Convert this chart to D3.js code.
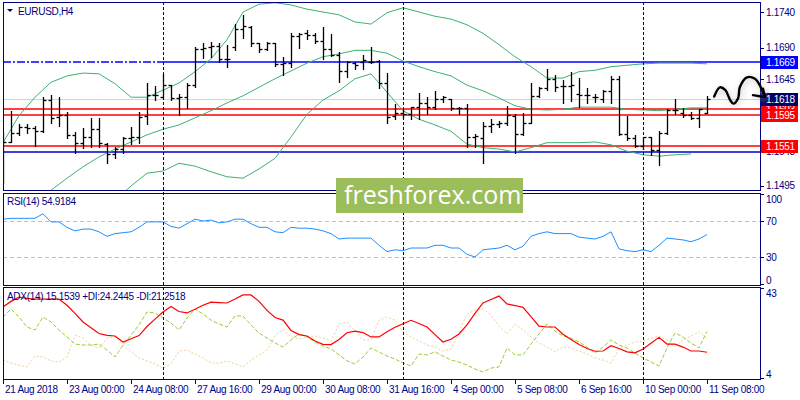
<!DOCTYPE html>
<html>
<head>
<meta charset="utf-8">
<script src="https://cdn.jsdelivr.net/npm/d3@7"></script>
<style>
  body { margin: 0; background: #fff; }
  svg text { font-family: "Liberation Sans", Arial, sans-serif; font-size: 10px; letter-spacing: -0.3px; }
</style>
</head>
<body>
<svg id="chart" width="800" height="400"></svg>
<script>
// EURUSD H4 bars
const opens = [1.1532,1.1557,1.1570,1.1578,1.1577,1.1572,1.1616,1.1592,1.1595,1.1567,1.1556,1.1564,1.1575,1.1554,1.1540,1.1547,1.1563,1.1564,1.1594,1.1623,1.1620,1.1637,1.1619,1.1620,1.1637,1.1688,1.1691,1.1692,1.1674,1.1691,1.1716,1.1719,1.1696,1.1688,1.1696,1.1667,1.1668,1.1706,1.1710,1.1708,1.1699,1.1688,1.1679,1.1657,1.1668,1.1670,1.1670,1.1671,1.1640,1.1594,1.1598,1.1596,1.1606,1.1612,1.1606,1.1618,1.1618,1.1605,1.1605,1.1564,1.1563,1.1579,1.1582,1.1584,1.1594,1.1568,1.1584,1.1622,1.1633,1.1646,1.1636,1.1636,1.1625,1.1623,1.1620,1.1618,1.1629,1.1646,1.1568,1.1563,1.1551,1.1564,1.1546,1.1570,1.1602,1.1598,1.1595,1.1591,1.1598];
const highs = [1.1571,1.1601,1.1582,1.1582,1.1579,1.1620,1.1623,1.1620,1.1599,1.1571,1.1577,1.1591,1.1591,1.1556,1.1550,1.1564,1.1578,1.1599,1.1640,1.1636,1.1653,1.1637,1.1625,1.1640,1.1691,1.1696,1.1698,1.1696,1.1694,1.1723,1.1736,1.1720,1.1696,1.1698,1.1696,1.1677,1.1710,1.1710,1.1715,1.1710,1.1719,1.1709,1.1684,1.1671,1.1670,1.1679,1.1691,1.1672,1.1654,1.1610,1.1602,1.1606,1.1626,1.1620,1.1629,1.1622,1.1618,1.1606,1.1610,1.1568,1.1585,1.1589,1.1587,1.1608,1.1596,1.1598,1.1640,1.1634,1.1660,1.1651,1.1644,1.1656,1.1647,1.1633,1.1625,1.1630,1.1650,1.1650,1.1594,1.1567,1.1564,1.1564,1.1572,1.1603,1.1618,1.1605,1.1599,1.1603,1.1622];
const lows = [1.1499,1.1557,1.1567,1.1570,1.1551,1.1571,1.1584,1.1579,1.1563,1.1541,1.1549,1.1550,1.1550,1.1527,1.1534,1.1541,1.1554,1.1556,1.1582,1.1616,1.1619,1.1616,1.1595,1.1605,1.1634,1.1675,1.1677,1.1670,1.1663,1.1686,1.1703,1.1692,1.1684,1.1686,1.1664,1.1651,1.1663,1.1689,1.1702,1.1696,1.1674,1.1678,1.1641,1.1648,1.1660,1.1660,1.1668,1.1633,1.1584,1.1589,1.1591,1.1589,1.1589,1.1596,1.1603,1.1613,1.1602,1.1596,1.1550,1.1550,1.1527,1.1571,1.1578,1.1581,1.1541,1.1567,1.1584,1.1620,1.1630,1.1629,1.1612,1.1615,1.1606,1.1612,1.1613,1.1613,1.1612,1.1567,1.1560,1.1550,1.1547,1.1539,1.1525,1.1568,1.1596,1.1592,1.1589,1.1578,1.1598];
const closes = [1.1557,1.1570,1.1578,1.1577,1.1572,1.1616,1.1591,1.1595,1.1567,1.1556,1.1564,1.1575,1.1556,1.1540,1.1547,1.1563,1.1564,1.1592,1.1623,1.1623,1.1637,1.1619,1.1620,1.1637,1.1688,1.1689,1.1692,1.1674,1.1674,1.1716,1.1720,1.1696,1.1688,1.1696,1.1667,1.1668,1.1706,1.1709,1.1708,1.1699,1.1688,1.1679,1.1657,1.1670,1.1665,1.1672,1.1670,1.1640,1.1592,1.1598,1.1596,1.1606,1.1612,1.1606,1.1618,1.1620,1.1605,1.1605,1.1564,1.1565,1.1579,1.1582,1.1584,1.1595,1.1568,1.1584,1.1622,1.1633,1.1646,1.1634,1.1636,1.1637,1.1623,1.1623,1.1620,1.1629,1.1646,1.1568,1.1563,1.1551,1.1564,1.1546,1.1570,1.1602,1.1602,1.1595,1.1591,1.1603,1.1618];

// bollinger bands, sampled every 2nd bar
const bandIdx = d3.range(0, 89, 2);
const upperBand = [1.1556,1.1594,1.1620,1.1641,1.1650,1.1654,1.1653,1.1639,1.1620,1.1620,1.1630,1.1640,1.1656,1.1674,1.1701,1.1740,1.1751,1.1753,1.1750,1.1744,1.1740,1.1736,1.1726,1.1723,1.1739,1.1746,1.1740,1.1734,1.1730,1.1722,1.1710,1.1694,1.1677,1.1663,1.1647,1.1647,1.1656,1.1658,1.1663,1.1665,1.1667,1.1668,1.1668,1.1668,1.1667];
const middleBand = [1.1450,1.1464,1.1477,1.1489,1.1506,1.1522,1.1536,1.1547,1.1557,1.1567,1.1575,1.1581,1.1591,1.1601,1.1612,1.1622,1.1634,1.1646,1.1657,1.1668,1.1677,1.1681,1.1686,1.1686,1.1682,1.1671,1.1663,1.1656,1.1650,1.1637,1.1629,1.1619,1.1608,1.1603,1.1602,1.1603,1.1606,1.1606,1.1606,1.1603,1.1602,1.1601,1.1603,1.1605,1.1605];
const lowerBand = [null,null,null,null,null,null,1.1454,1.1475,1.1495,1.1513,1.1516,1.1527,1.1523,1.1515,1.1508,1.1506,1.1519,1.1534,1.1564,1.1596,1.1616,1.1629,1.1646,1.1653,1.1627,1.1601,1.1589,1.1581,1.1572,1.1554,1.1549,1.1547,1.1543,1.1549,1.1556,1.1556,1.1556,1.1557,1.1553,1.1544,1.1539,1.1537,1.1539,1.1540,null];

// indicators
const rsi = [72,73,73,73,73,78,69,69,63,59,61,61,58,53,56,57,58,63,69,69,69,64,62,67,72,70,71,68,69,72,72,67,63,63,58,57,63,62,62,61,59,56,50,51,51,51,51,43,36,38,37,40,40,40,43,43,40,40,33,30,38,39,40,43,38,42,53,56,58,56,56,56,52,51,50,53,58,39,37,36,38,36,43,51,50,49,47,50,54.9184];
const adx = [34.8,37.2,39.0,38.5,38.2,38.2,38.2,38.2,35.5,32.0,28.3,25.8,23.3,22.5,22.2,19.6,21.0,22.4,26.3,29.5,32.6,35.0,32.8,32.2,33.8,35.5,36.9,36.7,36.5,38.2,40.0,40.0,37.2,33.3,30.2,29.1,24.6,22.8,22.2,20.0,18.6,18.5,20.7,23.6,24.3,23.7,21.8,21.8,24.0,26.0,27.5,29.0,27.6,26.1,22.8,19.6,20.8,23.1,27.0,32.0,36.5,38.0,39.5,36.1,35.4,34.6,30.6,26.5,26.1,26.1,23.0,20.7,18.5,16.8,15.6,15.7,18.0,16.8,15.3,14.9,16.6,19.1,21.6,18.7,18.7,17.4,15.7,15.7,15.1539];
const plusDI = [30.4,33.9,30.4,26.1,24.8,30.4,28.3,24.8,21.8,18.7,18.3,18.3,18.7,16.1,13.1,18.3,22.6,27.0,32.6,32.2,30.0,27.8,24.8,30.0,33.9,31.7,29.1,27.4,26.1,30.9,30.9,27.0,23.5,21.3,19.2,17.4,20.5,23.1,21.8,19.6,17.9,16.6,14.0,11.4,10.1,13.1,17.0,15.3,13.5,12.2,10.5,9.2,14.4,14.0,15.3,13.5,11.8,10.9,9.6,7.9,6.6,8.3,8.8,17.0,14.0,14.0,18.7,23.1,27.4,24.4,22.2,21.3,19.6,17.4,14.8,17.4,20.5,18.3,17.0,14.8,12.7,10.9,9.2,17.0,23.5,21.8,19.2,17.0,24.2445];
const minusDI = [11.8,10.5,9.6,8.8,13.5,13.1,11.4,10.9,13.1,22.6,21.3,18.3,17.0,21.3,21.8,18.3,15.3,12.7,11.4,10.1,8.3,10.1,15.7,16.1,14.4,12.7,10.5,10.5,11.4,10.1,8.8,11.8,14.0,16.1,22.2,25.2,21.8,20.9,21.8,22.2,21.3,20.0,27.4,28.3,24.4,20.5,20.5,29.1,30.4,29.1,23.9,21.8,20.0,18.3,17.4,15.7,16.6,23.9,31.7,33.5,33.9,31.3,26.5,23.1,27.4,24.8,21.8,19.2,17.4,15.3,17.4,17.0,15.7,14.4,12.7,11.8,10.5,16.6,18.3,19.6,20.0,21.3,22.2,20.5,17.4,20.5,22.2,23.9,21.2518];

// axes
const timeLabels = ["21 Aug 2018","23 Aug 00:00","24 Aug 08:00","27 Aug 16:00","29 Aug 00:00","30 Aug 08:00","31 Aug 16:00","4 Sep 00:00","5 Sep 08:00","6 Sep 16:00","10 Sep 00:00","11 Sep 08:00"];
const timeIdx = [0,8,16,24,32,40,48,56,64,72,80,88];
const separatorIdx = [20, 50, 80];
const priceTicks = [1.1740, 1.1690, 1.1645, 1.1495];
const rsiTicks = [100, 70, 30, 0];
const rsiLevels = [70, 30];
const adxTicks = [43, 4];

// drawn levels
const redLevels = [1.1603, 1.1595, 1.1551];
const blueLevels = [1.1669, 1.1543];
const grayLevel = 1.1618;

// hand-drawn forecast arrow, [bar, price]
const arrowPts = [[88.9,1.1621],[89.6,1.1634],[90.3,1.1630],[90.9,1.1616],[91.3,1.1611],[91.9,1.1619],[92.1,1.1634],[93.0,1.1648],[94.0,1.1646],[94.6,1.1637],[95.0,1.1626],[95.25,1.1621]];
const arrowHead = [[93.75,1.1623],[95.25,1.1620],[95.0,1.1632]];

const svg = d3.select("#chart");
const navy = "#000080";
const L = 3, R = 760;
const main = {top: 2, bottom: 190}, rsiP = {top: 193, bottom: 285}, adxP = {top: 287, bottom: 379};

const x = d3.scaleLinear().domain([0, 88]).range([3, 707]);
const y = d3.scaleLinear().domain([1.1495, 1.1740]).range([186, 12]);
const yR = d3.scaleLinear().domain([0, 100]).range([284, 194]);
const yA = d3.scaleLinear().domain([4, 43]).range([378, 288]);
const px = v => Math.round(v) + 0.5;
const last = a => a[a.length - 1];

svg.append("rect").attr("width", 800).attr("height", 400).attr("fill", "#fff");

const defs = svg.append("defs");
[["clipMain", main], ["clipRsi", rsiP], ["clipAdx", adxP]].forEach(([id, p]) => {
    defs.append("clipPath").attr("id", id).append("rect")
        .attr("x", L + 1).attr("y", p.top + 1).attr("width", R - L - 1).attr("height", p.bottom - p.top - 1);
});
defs.append("filter").attr("id", "blur").attr("x", "-10%").attr("y", "-300%").attr("width", "120%").attr("height", "700%")
    .append("feGaussianBlur").attr("stdDeviation", 3);

// ---------- main panel ----------
const gm = svg.append("g").attr("clip-path", "url(#clipMain)");

gm.append("line").attr("x1", L).attr("x2", R).attr("y1", px(y(grayLevel))).attr("y2", px(y(grayLevel)))
    .attr("stroke", "#d3d3d3").attr("stroke-width", 1);

// shadows under the blue lines
gm.append("line").attr("x1", x(separatorIdx[0])).attr("x2", R)
    .attr("y1", y(blueLevels[0]) + 6).attr("y2", y(blueLevels[0]) + 6)
    .attr("stroke", "#666").attr("stroke-width", 5).attr("opacity", 0.5).attr("filter", "url(#blur)");
gm.append("line").attr("x1", L).attr("x2", R)
    .attr("y1", y(blueLevels[1]) + 6).attr("y2", y(blueLevels[1]) + 6)
    .attr("stroke", "#666").attr("stroke-width", 5).attr("opacity", 0.5).attr("filter", "url(#blur)");

gm.selectAll(".red").data(redLevels).enter().append("line")
    .attr("x1", L).attr("x2", R).attr("y1", d => Math.round(y(d))).attr("y2", d => Math.round(y(d)))
    .attr("stroke", "#ff0000").attr("stroke-width", 1.5);

// top blue: dash-dot to first separator, solid after
gm.append("line").attr("x1", L).attr("x2", x(separatorIdx[0]))
    .attr("y1", Math.round(y(blueLevels[0]))).attr("y2", Math.round(y(blueLevels[0])))
    .attr("stroke", "#0000ff").attr("stroke-width", 1.5).attr("stroke-dasharray", "8,2,2,2");
gm.append("line").attr("x1", x(separatorIdx[0])).attr("x2", R)
    .attr("y1", Math.round(y(blueLevels[0]))).attr("y2", Math.round(y(blueLevels[0])))
    .attr("stroke", "#0000ff").attr("stroke-width", 1.5);
gm.append("line").attr("x1", L).attr("x2", R)
    .attr("y1", Math.round(y(blueLevels[1]))).attr("y2", Math.round(y(blueLevels[1])))
    .attr("stroke", "#0000cc").attr("stroke-width", 1.5);

// bollinger
const bandLine = d3.line()
    .defined(d => d[1] !== null)
    .x(d => x(d[0])).y(d => y(d[1]));
[upperBand, middleBand, lowerBand].forEach(band => {
    gm.append("path")
        .attr("d", bandLine(bandIdx.map((b, i) => [b, band[i]])))
        .attr("fill", "none").attr("stroke", "#3cb371").attr("stroke-width", 1);
});

// OHLC bars
const bars = gm.append("g").attr("stroke", "#000").attr("stroke-width", 1.3);
opens.forEach((o, i) => {
    const cx = px(x(i));
    bars.append("line").attr("x1", cx).attr("x2", cx).attr("y1", Math.round(y(highs[i]))).attr("y2", Math.round(y(lows[i])) + 1);
    bars.append("line").attr("x1", cx - 3).attr("x2", cx).attr("y1", px(y(o))).attr("y2", px(y(o)));
    bars.append("line").attr("x1", cx).attr("x2", cx + 3).attr("y1", px(y(closes[i]))).attr("y2", px(y(closes[i])));
});

// ---------- RSI panel ----------
const gr = svg.append("g").attr("clip-path", "url(#clipRsi)");
gr.selectAll(".lvl").data(rsiLevels).enter().append("line")
    .attr("x1", L).attr("x2", R).attr("y1", d => px(yR(d))).attr("y2", d => px(yR(d)))
    .attr("stroke", "#c0c0c0").attr("stroke-dasharray", "4,3");
gr.append("path")
    .attr("d", d3.line().x((d, i) => x(i)).y(d => yR(d))(rsi))
    .attr("fill", "none").attr("stroke", "#1e90ff").attr("stroke-width", 1);

// ---------- ADX panel ----------
const ga = svg.append("g").attr("clip-path", "url(#clipAdx)");
const adxLine = d3.line().x((d, i) => x(i)).y(d => yA(d));
ga.append("path").attr("d", adxLine(minusDI)).attr("fill", "none")
    .attr("stroke", "#f2cf94").attr("stroke-width", 1).attr("stroke-dasharray", "2,2");
ga.append("path").attr("d", adxLine(plusDI)).attr("fill", "none")
    .attr("stroke", "#9acd32").attr("stroke-width", 1).attr("stroke-dasharray", "4,2");
ga.append("path").attr("d", adxLine(adx)).attr("fill", "none")
    .attr("stroke", "#ff0000").attr("stroke-width", 1.2);

// period separators
separatorIdx.forEach(s => {
    svg.append("line").attr("x1", px(x(s))).attr("x2", px(x(s)))
        .attr("y1", main.top).attr("y2", adxP.bottom)
        .attr("stroke", navy).attr("stroke-width", 1).attr("stroke-dasharray", "3,2");
});

// frames
[main, rsiP, adxP].forEach(p => {
    svg.append("rect").attr("x", L + 0.5).attr("y", p.top + 0.5)
        .attr("width", R - L).attr("height", p.bottom - p.top)
        .attr("fill", "none").attr("stroke", navy).attr("stroke-width", 1);
});

// ---------- right scales ----------
function rightLabel(v, cy, p, txt) {
    const c = Math.max(p.top + 6, Math.min(p.bottom - 5, cy));
    svg.append("line").attr("x1", R).attr("x2", R + 4).attr("y1", px(cy)).attr("y2", px(cy)).attr("stroke", navy);
    svg.append("text").attr("x", R + 6).attr("y", c + 3.5).attr("fill", navy).text(txt);
}
priceTicks.forEach(v => rightLabel(v, y(v), main, v.toFixed(4)));
rsiTicks.forEach(v => rightLabel(v, yR(v), rsiP, v));
adxTicks.forEach(v => rightLabel(v, yA(v), adxP, v));

// level label that sits under the red box, as in MT4
svg.append("text").attr("x", R + 6).attr("y", y(blueLevels[1]) + 3.5).attr("fill", navy).text(blueLevels[1].toFixed(4));

function boxLabel(v, bg) {
    const cy = Math.round(y(v));
    svg.append("rect").attr("x", R + 1).attr("y", cy - 6).attr("width", 37).attr("height", 13).attr("fill", bg);
    svg.append("text").attr("x", R + 6).attr("y", cy + 4).attr("fill", "#fff").text(v.toFixed(4));
}
boxLabel(blueLevels[0], "#0000ff");
boxLabel(redLevels[0], "#ff0000");
boxLabel(redLevels[1], "#ff0000");
boxLabel(redLevels[2], "#ff0000");
boxLabel(grayLevel, "#000066");

// ---------- time axis ----------
timeIdx.forEach((t, i) => {
    svg.append("line").attr("x1", px(x(t))).attr("x2", px(x(t))).attr("y1", adxP.bottom).attr("y2", adxP.bottom + 5).attr("stroke", navy);
    svg.append("text").attr("x", x(t) + 2).attr("y", 393).attr("fill", navy).text(timeLabels[i]);
});

// ---------- titles ----------
svg.append("path").attr("d", "M7,9L13,9L10,12Z").attr("fill", navy);
svg.append("text").attr("x", 18).attr("y", 15).attr("fill", navy).text("EURUSD,H4");
svg.append("text").attr("x", 7).attr("y", 205).attr("fill", navy).text("RSI(14) " + last(rsi).toFixed(4));
svg.append("text").attr("x", 7).attr("y", 300).attr("fill", navy)
    .text("ADX(14) " + last(adx).toFixed(4) + " +DI:" + last(plusDI).toFixed(4) + " -DI:" + last(minusDI).toFixed(4));

// ---------- forecast arrow ----------
const arrowLine = d3.line().x(d => x(d[0])).y(d => y(d[1]));
[[arrowPts, d3.curveCatmullRom], [arrowHead, d3.curveLinear]].forEach(([pts, cv]) => {
    svg.append("path").attr("d", arrowLine.curve(cv)(pts)).attr("transform", "translate(1,2)")
        .attr("fill", "none").attr("stroke", "#999").attr("stroke-width", 3).attr("opacity", 0.5).attr("filter", "url(#blur)");
    svg.append("path").attr("d", arrowLine.curve(cv)(pts))
        .attr("fill", "none").attr("stroke", "#000").attr("stroke-width", 2.4)
        .attr("stroke-linecap", "round").attr("stroke-linejoin", "round");
});

// ---------- watermark ----------
svg.append("rect").attr("x", 336).attr("y", 178).attr("width", 187).attr("height", 35).attr("fill", "#9cbe5a");
svg.append("text").attr("x", 344).attr("y", 204).attr("fill", "#fff")
    .style("font-family", "'Open Sans', sans-serif").style("font-size", "25px").style("letter-spacing", "0px")
    .text("freshforex.com");
</script>
</body>
</html>
